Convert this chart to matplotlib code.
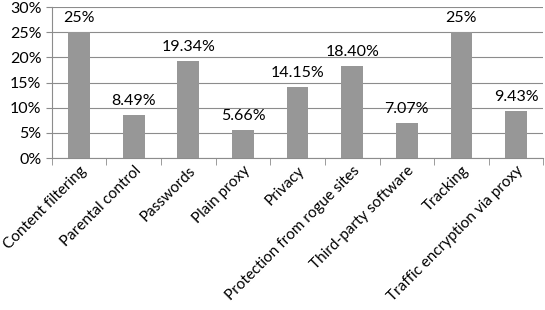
import matplotlib
matplotlib.use('Agg')
from matplotlib import pyplot as plt
from matplotlib.ticker import FuncFormatter, FixedLocator

categories = ['Content filtering', 'Parental control', 'Passwords', 'Plain proxy',
              'Privacy', 'Protection from rogue sites', 'Third-party software',
              'Tracking', 'Traffic encryption via proxy']
values = [25.0, 8.49, 19.34, 5.66, 14.15, 18.40, 7.07, 25.0, 9.43]
value_labels = ['25%', '8.49%', '19.34%', '5.66%', '14.15%', '18.40%', '7.07%', '25%', '9.43%']

plt.rcParams['font.family'] = ['Lato', 'DejaVu Sans']

fig = plt.figure(figsize=(5.45, 3.1), dpi=100)
ax = fig.add_axes([0.095, 0.49, 0.902, 0.487])

x = list(range(len(categories)))
bars = ax.bar(x, values, width=0.4, color='#979797', zorder=3)

for b, lab in zip(bars, value_labels):
    ax.annotate(lab, (b.get_x() + b.get_width() / 2, b.get_height()),
                xytext=(0, 5), textcoords='offset points',
                ha='center', va='bottom', fontsize=11.5, color='black')

ax.set_ylim(0, 30)
ax.set_xlim(-0.5, len(categories) - 0.5)
ax.set_yticks(range(0, 31, 5))
ax.yaxis.set_major_formatter(FuncFormatter(lambda v, p: '%d%%' % v))
ax.grid(axis='y', color='#8c8c8c', linewidth=0.8, zorder=0)

ax.set_xticks(x)
ax.set_xticklabels(categories, rotation=45, ha='right', va='top',
                   rotation_mode='anchor', fontsize=11)
ax.tick_params(axis='x', which='major', length=0, pad=4)
ax.xaxis.set_minor_locator(FixedLocator([i - 0.5 for i in range(len(categories) + 1)]))
ax.tick_params(axis='x', which='minor', length=5, color='#8c8c8c')
ax.tick_params(axis='y', length=4, color='#8c8c8c', labelsize=11.5)

for s in ['top', 'right']:
    ax.spines[s].set_visible(False)
for s in ['left', 'bottom']:
    ax.spines[s].set_color('#8c8c8c')
    ax.spines[s].set_linewidth(0.8)

fig.savefig('out.png', dpi=100)
